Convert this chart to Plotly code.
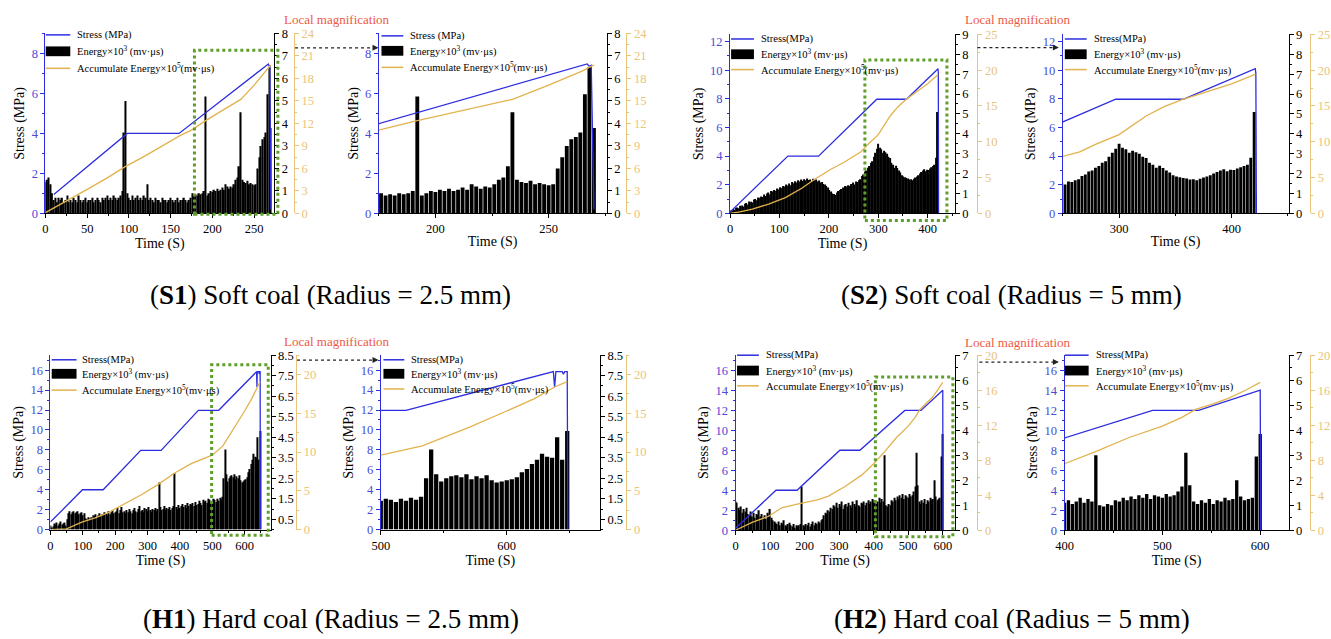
import plotly.graph_objects as go

W, H = 1331, 639

# ---------------- DATA ----------------
# S1 soft coal, r = 2.5 mm
s1_energy_t = list(range(0, 271, 2))
s1_energy = [1.4, 1.5, 1.6, 1.3, 0.9, 0.6, 0.7, 0.5, 0.7, 0.6,
             0.7, 0.5, 0.6, 0.8, 0.5, 0.6, 0.5, 0.7, 0.6, 0.5,
             0.8, 0.6, 0.5, 0.6, 0.7, 0.5, 0.6, 0.6, 0.7, 0.5,
             0.6, 0.7, 0.6, 0.5, 0.7, 0.6, 0.7, 0.8, 0.6, 0.7,
             0.6, 0.8, 0.7, 0.6, 0.7, 0.8, 1.0, 3.6, 5.0, 0.9,
             0.7, 0.6, 0.8, 0.6, 0.7, 0.8, 0.6, 0.7, 0.6, 0.8,
             0.7, 1.3, 0.6, 0.7, 0.6, 0.5, 0.7, 0.6, 0.6, 0.5,
             0.7, 0.6, 0.6, 0.5, 0.6, 0.7, 0.6, 0.5, 0.6, 0.7,
             0.5, 0.6, 0.6, 0.7, 0.6, 0.5, 0.6, 0.7, 0.9, 0.8,
             0.85, 0.8, 0.9, 0.85, 0.9, 1.0, 5.2, 0.8, 0.9, 1.0,
             0.95, 1.05, 1.0, 1.1, 1.0, 1.05, 1.15, 1.05, 1.3, 1.2,
             1.1, 1.2, 1.15, 1.3, 1.5, 1.6, 2.1, 4.5, 1.5, 1.4,
             1.35, 1.45, 1.3, 1.35, 1.3, 1.25, 1.3, 2.0, 2.5, 3.0,
             3.3, 3.4, 3.6, 5.3, 6.5, 3.8]
s1_stress_t = [10, 98, 160, 267, 268, 268.8, 270]
s1_stress = [0.95, 4.0, 4.0, 7.47, 7.35, 7.4, 0.2]
s1_acc_t = [0, 25, 50, 75, 95, 120, 160, 175, 191, 210, 234, 250, 260, 265, 270]
s1_acc = [0.1, 1.6, 3.2, 4.8, 6.2, 7.7, 10.3, 11.1, 12.3, 13.6, 15.2, 17.1, 18.4, 19.0, 19.8]

# S2 soft coal, r = 5 mm
s2_energy_t = list(range(0, 421, 3))
s2_energy = [0.10, 0.15, 0.22, 0.18, 0.28, 0.30, 0.26, 0.38, 0.40, 0.35,
             0.48, 0.52, 0.45, 0.60, 0.58, 0.55, 0.70, 0.72, 0.66, 0.80,
             0.78, 0.85, 0.82, 0.95, 0.88, 1.00, 1.05, 0.95, 1.12, 1.10,
             1.18, 1.12, 1.25, 1.20, 1.32, 1.28, 1.38, 1.35, 1.45, 1.40,
             1.50, 1.42, 1.58, 1.52, 1.62, 1.55, 1.66, 1.60, 1.70, 1.64,
             1.72, 1.66, 1.75, 1.68, 1.70, 1.62, 1.74, 1.66, 1.70, 1.60,
             1.65, 1.55, 1.58, 1.48, 1.45, 1.38, 1.30, 1.18, 1.10, 1.00,
             0.98, 0.92, 1.05, 1.12, 1.18, 1.22, 1.30, 1.26, 1.38, 1.35,
             1.42, 1.38, 1.48, 1.55, 1.45, 1.60, 1.58, 1.66, 1.72, 1.88,
             1.95, 2.10, 2.15, 2.30, 2.38, 2.55, 2.62, 2.85, 3.05, 3.25,
             3.50, 3.30, 3.22, 3.05, 3.15, 3.08, 3.00, 2.85, 2.78, 2.55,
             2.45, 2.30, 2.40, 2.28, 2.15, 2.05, 1.92, 1.86, 1.82, 1.78,
             1.76, 1.70, 1.72, 1.66, 1.74, 1.80, 1.86, 1.92, 2.00, 2.08,
             2.15, 2.22, 2.12, 2.20, 2.18, 2.26, 2.32, 2.38, 2.45, 2.80,
             5.10]
s2_stress_t = [0, 117, 179, 297, 357, 421, 421.5, 422]
s2_stress = [0.1, 4.0, 4.0, 7.97, 7.97, 10.1, 9.8, 0.0]
s2_acc_t = [0, 20, 45, 78, 112, 145, 172, 205, 230, 250, 265, 280, 300, 324, 340, 356, 383, 400, 421]
s2_acc = [0, 0.2, 0.6, 1.3, 2.2, 3.5, 4.8, 6.2, 7.1, 7.9, 8.6, 9.7, 11.0, 13.6, 14.9, 15.9, 17.2, 18.1, 19.4]

# H1 hard coal, r = 2.5 mm
h1_energy_t = list(range(0, 649, 4))
h1_energy = [0.20, 0.10, 0.15, 0.30, 0.25, 0.35, 0.20, 0.30, 0.40, 0.25,
             0.30, 0.35, 0.20, 0.50, 0.80, 0.90, 0.75, 0.85, 0.90, 0.80,
             0.85, 0.90, 0.75, 0.80, 0.85, 0.70, 0.80, 0.55, 0.50, 0.60,
             0.45, 0.55, 0.60, 0.70, 0.65, 0.75, 0.60, 0.70, 0.80, 0.65,
             0.75, 0.70, 0.85, 0.80, 0.70, 0.90, 0.75, 0.85, 0.95, 0.80,
             0.85, 0.90, 1.05, 0.80, 0.95, 1.10, 0.85, 0.90, 0.80, 0.95,
             0.85, 1.00, 0.90, 0.80, 0.95, 1.05, 0.90, 0.85, 1.00, 1.15,
             0.90, 0.95, 0.85, 1.05, 1.00, 0.90, 1.10, 0.95, 0.85, 1.00,
             0.95, 1.05, 0.90, 1.00, 2.30, 1.10, 0.95, 1.00, 1.15, 0.95,
             1.05, 1.00, 1.10, 0.95, 1.05, 1.15, 2.75, 1.10, 1.00, 1.20,
             1.05, 1.15, 1.25, 1.10, 1.20, 1.05, 1.30, 1.15, 1.25, 1.20,
             1.30, 1.15, 1.35, 1.20, 1.25, 1.40, 1.30, 1.20, 1.45, 1.35,
             1.40, 1.30, 1.50, 1.45, 1.35, 1.40, 1.50, 1.45, 1.35, 1.50,
             1.40, 1.55, 1.45, 1.60, 2.50, 3.90, 2.70, 2.35, 2.50, 2.60,
             2.65, 2.55, 2.70, 2.45, 2.60, 2.50, 2.65, 2.40, 2.30, 2.35,
             2.40, 2.45, 2.55, 2.80, 2.95, 3.20, 3.40, 3.70, 3.55, 3.50,
             4.50, 3.40, 4.80]
h1_stress_t = [0, 99, 163, 279, 342, 457, 520, 637, 638, 639, 644, 645, 646, 648, 648.5]
h1_stress = [0.75, 4.0, 4.0, 7.95, 7.95, 11.97, 11.97, 15.85, 14.3, 15.85, 15.85, 15.6, 15.85, 15.85, 0.0]
h1_acc_t = [0, 30, 50, 97, 138, 179, 230, 281, 332, 384, 435, 480, 500, 533, 570, 600, 622, 638, 648]
h1_acc = [0, 0.05, 0.1, 0.96, 1.5, 2.2, 3.3, 4.5, 5.8, 7.3, 8.5, 9.3, 9.6, 10.8, 13.2, 15.3, 16.9, 18.4, 19.1]

# H2 hard coal, r = 5 mm
h2_energy_t = list(range(0, 601, 4))
h2_energy = [1.15, 1.10, 0.90, 0.80, 0.95, 0.70, 0.85, 0.75, 0.90, 0.65,
             0.60, 0.75, 0.55, 0.70, 0.50, 0.65, 0.60, 0.80, 0.55, 0.65,
             0.50, 0.60, 0.45, 0.70, 0.55, 0.85, 0.50, 0.40, 0.35, 0.30,
             0.25, 0.35, 0.20, 0.30, 0.25, 0.40, 0.20, 0.15, 0.25, 0.30,
             0.20, 0.15, 0.25, 0.10, 0.20, 0.15, 0.20, 0.25, 1.75, 0.20,
             0.15, 0.25, 0.20, 0.30, 0.15, 0.25, 0.35, 0.20, 0.30, 0.25,
             0.35, 0.30, 0.40, 0.45, 0.60, 0.70, 0.65, 0.80, 0.75, 0.90,
             0.85, 1.00, 0.95, 1.10, 0.90, 1.05, 0.95, 1.15, 0.85, 1.00,
             1.05, 0.95, 1.10, 1.00, 0.90, 1.15, 1.05, 0.95, 1.20, 1.00,
             0.95, 1.10, 1.05, 1.15, 1.00, 1.10, 1.20, 1.05, 1.15, 1.25,
             1.10, 1.20, 1.05, 1.15, 1.30, 1.10, 1.25, 1.15, 3.00, 1.00,
             0.95, 1.05, 1.00, 1.20, 1.15, 1.30, 1.20, 1.35, 1.25, 1.40,
             1.30, 1.45, 1.25, 1.40, 1.35, 1.30, 1.45, 1.35, 1.40, 1.55,
             1.75, 3.10, 1.80, 1.15, 1.05, 1.20, 1.10, 1.25, 1.05, 1.20,
             1.15, 1.30, 1.20, 1.25, 2.00, 1.35, 1.20, 1.25, 1.30, 2.95,
             3.85]
h2_stress_t = [0, 117, 178, 302, 360, 490, 537, 600, 600.5]
h2_stress = [0.2, 4.0, 4.0, 8.0, 8.0, 11.98, 11.98, 14.0, 0.0]
h2_acc_t = [0, 48, 96, 135, 192, 240, 269, 317, 365, 400, 433, 466, 500, 520, 534, 551, 568, 585, 600]
h2_acc = [0, 0.9, 1.6, 2.6, 3.1, 3.5, 3.9, 5.0, 6.3, 7.6, 9.05, 10.6, 11.9, 12.9, 13.8, 14.4, 15.1, 16.0, 16.9]

captions = ["(<b>S1</b>) Soft coal (Radius = 2.5 mm)", "(<b>S2</b>) Soft coal (Radius = 5 mm)",
            "(<b>H1</b>) Hard coal (Radius = 2.5 mm)", "(<b>H2</b>) Hard coal (Radius = 5 mm)"]
energy_name = "Energy×10<sup>3</sup> (mv·μs)"
acc_name = "Accumulate Energy×10<sup>5</sup>(mv·μs)"

DATA = {
    "S1": dict(et=s1_energy_t, e=s1_energy, st=s1_stress_t, s=s1_stress, at=s1_acc_t, a=s1_acc),
    "S2": dict(et=s2_energy_t, e=s2_energy, st=s2_stress_t, s=s2_stress, at=s2_acc_t, a=s2_acc),
    "H1": dict(et=h1_energy_t, e=h1_energy, st=h1_stress_t, s=h1_stress, at=h1_acc_t, a=h1_acc),
    "H2": dict(et=h2_energy_t, e=h2_energy, st=h2_stress_t, s=h2_stress, at=h2_acc_t, a=h2_acc),
}

# ---------------- STYLE / LAYOUT ----------------
FONT = "Liberation Serif"
BLUE = "#2d2de0"
BLUE_T = "#4a4ad6"
ORANGE = "#e2b24c"
ORANGE_T = "#e8c47c"
GREEN = "#5e9e2a"
RED = "#ee5a44"


def px(x):
    return x / W


def py(y):
    return 1 - y / H


panels = [
    dict(key="S1", xdom=(36.7, 267), ydom=(211, 27), orange=287, xr=(0, 274), xd=50, sr=(0, 9), sd=2,
         er=(0, 8), e0=0, ed=1, ar=(0, 24), ad=3, leg=(37, 61.7, 66.7, (28.5, 45.3, 62.7)), sname="Stress (MPa)"),
    dict(key="S1", xdom=(372.3, 601.7), ydom=(211, 27), orange=621.7, xr=(175, 275.6), xd=50, sr=(0, 9), sd=2,
         er=(0, 8), e0=0, ed=1, ar=(0, 24), ad=3, leg=(375, 397, 402, (29.5, 44.8, 61.7)), sname="Stress (MPa)"),
    dict(key="S2", xdom=(726, 952.3), ydom=(211, 28), orange=975, xr=(0, 455), xd=100, sr=(0, 12.5), sd=2,
         er=(0, 9), e0=0, ed=1, ar=(0, 25), ad=5, leg=(727, 750, 755, (32.7, 48.3, 64)), sname="Stress(MPa)"),
    dict(key="S2", xdom=(1061, 1288.3), ydom=(211, 28), orange=1310, xr=(250, 450.6), xd=100, sr=(0, 12.5), sd=2,
         er=(0, 9), e0=0, ed=1, ar=(0, 25), ad=5, leg=(1063, 1085, 1090, (32.7, 48.3, 64)), sname="Stress(MPa)"),
    dict(key="H1", xdom=(41.7, 263.3), ydom=(534.3, 356), orange=289.3, xr=(0, 680), xd=100, sr=(0, 17.5), sd=2,
         er=(0, 8.5), e0=0.5, ed=1, ar=(0, 22.5), ad=5, leg=(43, 68, 71.7, (360.7, 375, 391.7)), sname="Stress(MPa)"),
    dict(key="H1", xdom=(374.3, 595), ydom=(534.3, 356), orange=621.7, xr=(500, 674), xd=100, sr=(0, 17.5), sd=2,
         er=(0, 8.5), e0=0.5, ed=1, ar=(0, 22.5), ad=5, leg=(377, 398, 403, (360.7, 375, 390.5)), sname="Stress(MPa)"),
    dict(key="H2", xdom=(731.5, 952.3), ydom=(535, 356), orange=975, xr=(0, 635), xd=100, sr=(0, 17.5), sd=2,
         er=(0, 7), e0=0, ed=1, ar=(0, 20), ad=4, leg=(733, 755, 760, (356, 371.7, 387.3)), sname="Stress(MPa)"),
    dict(key="H2", xdom=(1062.7, 1288.3), ydom=(535, 356), orange=1310, xr=(400, 629), xd=100, sr=(0, 17.5), sd=2,
         er=(0, 7), e0=0, ed=1, ar=(0, 20), ad=4, leg=(1063, 1087, 1092, (356, 371.7, 387.3)), sname="Stress(MPa)"),
]

fig = go.Figure()
layout = {}
shapes = []
annotations = []
tickfont = dict(family=FONT, size=12.5, color="black")
legfont = dict(family=FONT, size=10.5, color="black")

for i, p in enumerate(panels):
    d = DATA[p["key"]]
    xn = i + 1
    ye, ys, ya = 3 * i + 1, 3 * i + 2, 3 * i + 3
    xref = "x" if xn == 1 else f"x{xn}"
    yer = "y" if ye == 1 else f"y{ye}"

    fig.add_trace(go.Scatter(x=d["st"], y=d["s"], mode="lines", line=dict(color=BLUE, width=1.3),
                             name=p["sname"], xaxis=xref, yaxis=f"y{ys}", showlegend=False))
    fig.add_trace(go.Bar(x=d["et"], y=d["e"], marker=dict(color="black", line=dict(width=0)),
                         name="Energy", xaxis=xref, yaxis=yer, showlegend=False))
    fig.add_trace(go.Scatter(x=d["at"], y=d["a"], mode="lines", line=dict(color=ORANGE, width=1.3),
                             name="Accumulate Energy", xaxis=xref, yaxis=f"y{ya}", showlegend=False))

    xk = "xaxis" if xn == 1 else f"xaxis{xn}"
    layout[xk] = dict(domain=[px(p["xdom"][0]), px(p["xdom"][1])], range=list(p["xr"]), anchor=yer,
                      tick0=0, dtick=p["xd"], showline=True, linecolor="black", linewidth=1,
                      ticks="outside", ticklen=4, tickcolor="black", showgrid=False, zeroline=False,
                      minor=dict(dtick=p["xd"] / 2, ticks="outside", ticklen=2, tickcolor="black"),
                      tickfont=tickfont,
                      title=dict(text="Time (S)", font=dict(family=FONT, size=14, color="black"), standoff=0))
    yek = "yaxis" if ye == 1 else f"yaxis{ye}"
    layout[yek] = dict(domain=[py(p["ydom"][0]), py(p["ydom"][1])], range=list(p["er"]), anchor=xref,
                       side="right", tick0=p["e0"], dtick=p["ed"], showline=True, linecolor="black",
                       ticks="outside", ticklen=4, tickcolor="black", showgrid=False, zeroline=False,
                       minor=dict(dtick=p["ed"] / 2, tick0=0, ticks="outside", ticklen=2, tickcolor="black"),
                       tickfont=tickfont)
    layout[f"yaxis{ys}"] = dict(overlaying=yer, side="left", anchor=xref, range=list(p["sr"]),
                                tick0=0, dtick=p["sd"], showline=True, linecolor=BLUE, linewidth=1,
                                ticks="outside", ticklen=4, tickcolor=BLUE, showgrid=False, zeroline=False,
                                minor=dict(dtick=p["sd"] / 2, ticks="outside", ticklen=2, tickcolor=BLUE),
                                tickfont=dict(family=FONT, size=12.5, color=BLUE_T),
                                title=dict(text="Stress (MPa)", font=dict(family=FONT, size=14, color="black"),
                                           standoff=3))
    layout[f"yaxis{ya}"] = dict(overlaying=yer, side="right", anchor="free", position=px(p["orange"]),
                                range=list(p["ar"]), tick0=0, dtick=p["ad"], showline=True, linecolor=ORANGE_T,
                                ticks="outside", ticklen=4, tickcolor=ORANGE_T, showgrid=False, zeroline=False,
                                minor=dict(dtick=p["ad"] / 2, ticks="outside", ticklen=2, tickcolor=ORANGE_T),
                                tickfont=dict(family=FONT, size=12.5, color=ORANGE_T))

    # legend drawn as swatches + text
    lx0, lx1, tx, rows = p["leg"]
    shapes.append(dict(type="line", xref="paper", yref="paper", x0=px(lx0), x1=px(lx1),
                       y0=py(rows[0]), y1=py(rows[0]), line=dict(color=BLUE, width=1.5)))
    shapes.append(dict(type="rect", xref="paper", yref="paper", x0=px(lx0), x1=px(lx1),
                       y0=py(rows[1] + 5), y1=py(rows[1] - 5), line=dict(width=0), fillcolor="black"))
    shapes.append(dict(type="line", xref="paper", yref="paper", x0=px(lx0), x1=px(lx1),
                       y0=py(rows[2]), y1=py(rows[2]), line=dict(color=ORANGE, width=1.5)))
    for txt, ry in zip([p["sname"], energy_name, acc_name], rows):
        annotations.append(dict(xref="paper", yref="paper", x=px(tx), y=py(ry), text=txt, showarrow=False,
                                xanchor="left", yanchor="middle", font=legfont))

# zoom boxes, arrows, labels
boxes = [(186.7, 44.3, 270.7, 212), (861.7, 54.3, 944.3, 218.3),
         (204, 365.7, 261, 540), (872.3, 378.3, 950.3, 541.7)]
arrows = [(288, 372, 41.7), (975, 1057, 41.5), (290, 372, 361), (977, 1057, 363)]
red_pos = [(330.5, 12.5), (1016, 13), (330, 342.5), (1016, 343)]
cap_pos = [(323.5, 294), (1009, 294), (324, 626), (1010, 626)]

for (x0, y0, x1, y1) in boxes:
    shapes.append(dict(type="rect", xref="paper", yref="paper", x0=px(x0), x1=px(x1), y0=py(y1), y1=py(y0),
                       line=dict(color=GREEN, width=3, dash="dot")))
for (x0, x1, y) in arrows:
    shapes.append(dict(type="line", xref="paper", yref="paper", x0=px(x0), x1=px(x1 - 4), y0=py(y), y1=py(y),
                       line=dict(color="#222222", width=1.2, dash="dot")))
    annotations.append(dict(xref="paper", yref="paper", x=px(x1), y=py(y), ax=-6, ay=0, text="",
                            showarrow=True, arrowhead=2, arrowsize=1, arrowwidth=1.2, arrowcolor="#222222"))
for (x, y) in red_pos:
    annotations.append(dict(xref="paper", yref="paper", x=px(x), y=py(y), text="Local magnification",
                            showarrow=False, font=dict(family=FONT, size=13, color=RED),
                            xanchor="center", yanchor="middle"))
for (x, y), txt in zip(cap_pos, captions):
    annotations.append(dict(xref="paper", yref="paper", x=px(x), y=py(y), text=txt, showarrow=False,
                            font=dict(family=FONT, size=27, color="black"), xanchor="center", yanchor="middle"))

fig.update_layout(width=W, height=H, margin=dict(l=0, r=0, t=0, b=0), autosize=False,
                  paper_bgcolor="white", plot_bgcolor="rgba(0,0,0,0)", bargap=0.15, showlegend=False,
                  shapes=shapes, annotations=annotations, **layout)

fig.write_html("out.html")
